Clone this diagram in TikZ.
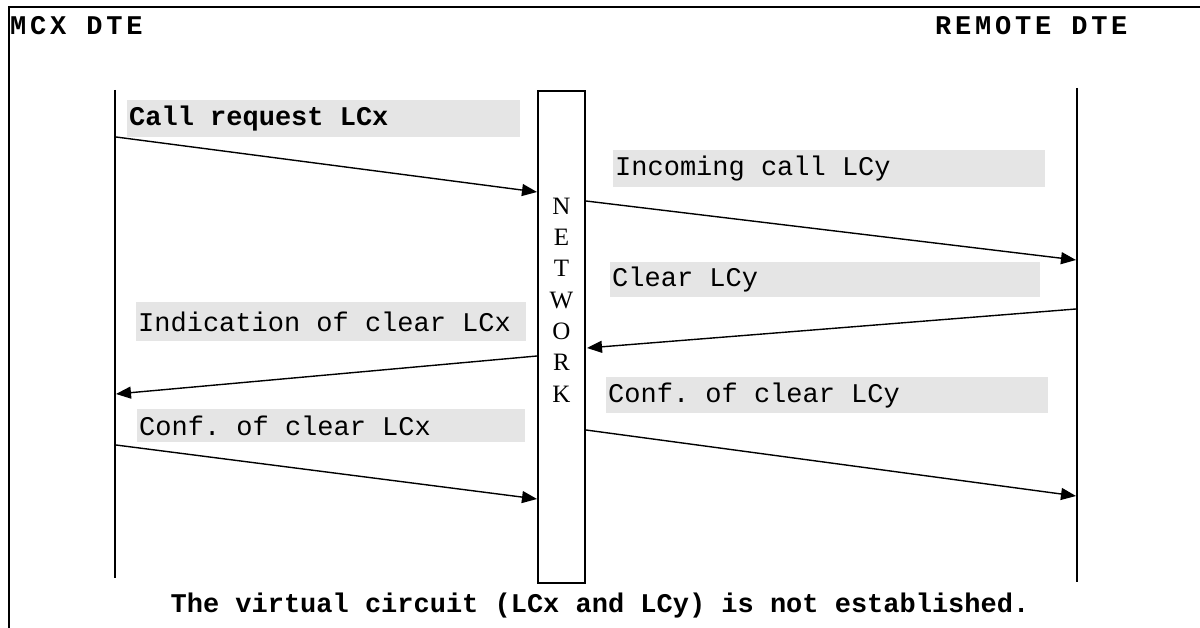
\documentclass[tikz,border=0pt]{standalone}
\usepackage{fontspec}
\setmainfont{Liberation Serif}
\setmonofont{Liberation Mono}
\newfontfamily\hdfont[LetterSpace=14]{Liberation Mono}
\usetikzlibrary{arrows.meta, positioning}
\definecolor{lblgray}{RGB}{229,229,229}

\begin{document}
\begin{tikzpicture}[
    x=1pt, y=-1pt,
    msg/.style={fill=lblgray, anchor=north west, inner xsep=2pt, inner ysep=0pt, font=\fontsize{27}{30}\selectfont\ttfamily},
    head/.style={anchor=base west, inner sep=0pt, font=\fontsize{27}{30}\selectfont\hdfont\bfseries},
    lifeline/.style={line width=2pt},
    arrow/.style={line width=1.4pt, -{Triangle[length=15pt, width=12pt]}}
]
\useasboundingbox (0,0) rectangle (1200,628);

% Frame
\draw[line width=2.5pt] (9,628) -- (9,7) -- (1200,7);

% Titles
\node[head] (mcx) at (10,35) {MCX DTE};
\node[head] (remote) at (935,35) {REMOTE DTE};

% Lifelines
\coordinate (mcxtop) at (115,90);
\coordinate (mcxbot) at (115,578);
\coordinate (remtop) at (1077,88);
\coordinate (rembot) at (1077,582);
\draw[lifeline] (mcxtop) -- (mcxbot);
\draw[lifeline] (remtop) -- (rembot);

% Network
\node[draw, line width=2pt, minimum width=47pt, minimum height=492pt, inner sep=0pt] (net) at (561.5,337) {};
\node[font=\fontsize{25}{31.3}\selectfont, align=center, inner sep=0pt] (netlbl) at (561.5,300) {N\\E\\T\\W\\O\\R\\K};

% Messages
\node[msg, minimum height=37pt] (callreq) at (127,100) {\makebox[389pt][l]{\bfseries Call request LCx}};
\node[msg, minimum height=37pt] (incall) at (613,150) {\makebox[428pt][l]{Incoming call LCy}};
\node[msg, minimum height=35pt] (clry) at (610,262) {\makebox[426pt][l]{Clear LCy}};
\node[msg, minimum height=39pt] (indx) at (136,302) {\makebox[386pt][l]{Indication of clear LCx}};
\node[msg, minimum height=36pt] (confy) at (606,377) {\makebox[438pt][l]{Conf. of clear LCy}};
\node[msg, minimum height=33pt] (confx) at (137,409) {\makebox[384pt][l]{Conf. of clear LCx}};

% Arrow ends
\coordinate (s1) at (116,137);   \coordinate (e1) at (537,192);
\coordinate (s2) at (586,201);   \coordinate (e2) at (1076,260);
\coordinate (s3) at (1076,309);  \coordinate (e3) at (587,348);
\coordinate (s4) at (537,356);   \coordinate (e4) at (116,394);
\coordinate (s5) at (586,430);   \coordinate (e5) at (1076,496);
\coordinate (s6) at (116,445);   \coordinate (e6) at (537,499);

% Arrows
\draw[arrow] (s1) -- (e1);
\draw[arrow] (s2) -- (e2);
\draw[arrow] (s3) -- (e3);
\draw[arrow] (s4) -- (e4);
\draw[arrow] (s5) -- (e5);
\draw[arrow] (s6) -- (e6);

% Note
\node[anchor=base, inner sep=0pt, font=\fontsize{27}{30}\selectfont\ttfamily\bfseries] (note) at (600,612) {The virtual circuit (LCx and LCy) is not established.};

\end{tikzpicture}
\end{document}
